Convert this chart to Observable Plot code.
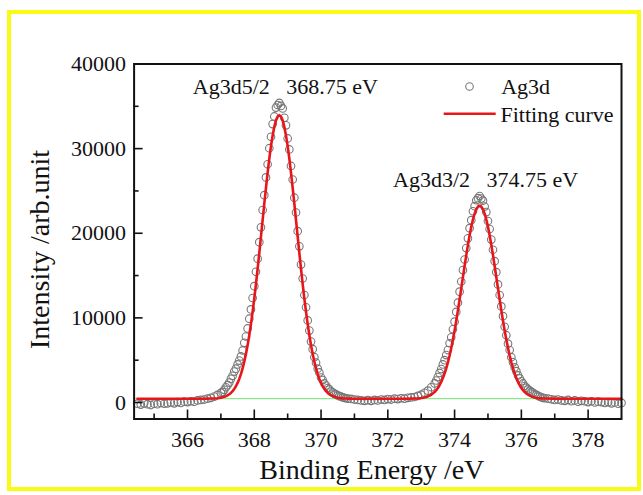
<!DOCTYPE html>
<html><head><meta charset="utf-8">
<script src="https://cdn.jsdelivr.net/npm/d3@7"></script>
<script src="https://cdn.jsdelivr.net/npm/@observablehq/plot@0.6"></script>
<style>
html,body{margin:0;padding:0;background:#fff;}
#wrap{position:relative;width:643px;height:495px;overflow:hidden;}
#chart svg{display:block;}
#border{position:absolute;left:7px;top:10px;width:634px;height:481px;border:4px solid #fafa14;box-sizing:border-box;pointer-events:none;}
</style></head>
<body><div id="wrap"><div id="chart"></div><div id="border"></div></div>
<script>
// Binding energy (eV)
const energy = [
364.5,364.6,364.7,364.8,364.9,365.0,365.1,365.2,365.3,365.4,365.5,365.6,365.7,365.8,365.9,366.0,366.1,366.2,366.3,366.4,366.5,366.6,366.7,366.8,366.9,
367.00,367.05,367.10,367.15,367.20,367.25,367.30,367.35,367.40,367.45,367.50,367.55,367.60,367.65,367.70,367.75,367.80,367.85,367.90,367.95,
368.00,368.05,368.10,368.15,368.20,368.25,368.30,368.35,368.40,368.45,368.50,368.55,368.60,368.65,368.70,368.75,368.80,368.85,368.90,368.95,
369.00,369.05,369.10,369.15,369.20,369.25,369.30,369.35,369.40,369.45,369.50,369.55,369.60,369.65,369.70,369.75,369.80,369.85,369.90,369.95,
370.00,370.05,370.10,370.15,370.20,370.25,370.30,370.35,370.40,370.45,370.50,370.55,370.60,370.65,370.70,370.75,370.80,
370.9,371.0,371.1,371.2,371.3,371.4,371.5,371.6,371.7,371.8,371.9,372.0,372.1,372.2,372.3,372.4,372.5,372.6,372.7,372.8,372.9,373.0,373.1,373.2,373.3,
373.40,373.45,373.50,373.55,373.60,373.65,373.70,373.75,373.80,373.85,373.90,373.95,
374.00,374.05,374.10,374.15,374.20,374.25,374.30,374.35,374.40,374.45,374.50,374.55,374.60,374.65,374.70,374.75,374.80,374.85,374.90,374.95,
375.00,375.05,375.10,375.15,375.20,375.25,375.30,375.35,375.40,375.45,375.50,375.55,375.60,375.65,375.70,375.75,375.80,375.85,375.90,375.95,
376.00,376.05,376.10,376.15,376.20,376.25,376.30,376.35,376.40,376.45,376.50,376.55,376.60,376.65,376.70,
376.8,376.9,377.0,377.1,377.2,377.3,377.4,377.5,377.6,377.7,377.8,377.9,378.0,378.1,378.2,378.3,378.4,378.5,378.6,378.7,378.8,378.9,379.0
];
// Measured Ag3d intensity (open circles)
const counts = [
-150,-250,-100,-200,-300,-150,-200,-50,-150,-100,0,-100,50,-50,100,50,150,100,250,300,350,450,550,700,900,
1150,1250,1500,1800,2050,2350,2800,3150,3650,4000,4500,4950,5450,6150,7050,7800,8750,9900,11000,12350,
13750,15450,17000,18950,20700,22750,24500,26600,28150,30050,31400,32900,33800,34850,35150,35400,35050,34750,33650,32750,
31200,29900,27950,26350,24200,22450,20250,18450,16300,14650,12700,11250,9700,8500,7200,6300,5350,4700,4000,3550,
2950,2650,2250,2000,1700,1550,1300,1200,1050,950,850,750,700,600,550,500,450,
420,350,300,250,200,280,200,300,250,350,300,400,350,450,400,500,450,550,600,650,780,920,1150,1400,1800,
2250,2600,3000,3500,3950,4500,5000,5600,6200,7000,7700,8650,
9550,10700,11800,13100,14300,15650,16900,18250,19400,20600,21550,22600,23200,23900,24150,24400,24100,23850,23150,22500,
21450,20500,19250,18050,16700,15400,13950,12700,11350,10200,8950,7950,6950,6200,5350,4750,4150,3700,3200,2850,
2500,2250,1950,1750,1550,1400,1250,1150,1000,900,800,700,620,550,500,
450,380,300,350,250,200,300,150,250,100,200,150,50,150,0,100,50,-50,50,-100,0,-150,-50
];
// Fitting curve
const fit = [
450,450,450,450,450,450,450,450,450,450,450,450,450,450,450,450,450,450,450,450,450,458,465,480,510,
567,611,668,745,845,973,1137,1344,1602,1921,2313,2788,3354,4024,4812,5723,6765,7941,9257,10708,
12289,13987,15786,17666,19599,21548,23488,25371,27160,28814,30295,31561,32583,33337,33795,33950,33795,33337,32583,31561,
30295,28814,27160,25371,23488,21548,19599,17666,15786,13987,12289,10708,9257,7941,6765,5723,4812,4024,3354,2788,
2313,1921,1602,1344,1137,973,845,745,668,611,567,534,510,490,480,470,462,
455,450,450,450,450,450,450,450,450,450,450,450,450,450,450,450,450,450,462,471,491,530,598,719,917,
1234,1451,1718,2041,2427,2883,3419,4039,4748,5548,6444,7431,
8508,9663,10888,12167,13482,14809,16130,17411,18628,19755,20763,21624,22320,22833,23145,23250,23145,22833,22320,21624,
20763,19755,18628,17411,16130,14809,13482,12167,10888,9663,8508,7431,6444,5548,4748,4039,3419,2883,2427,2041,
1718,1451,1234,1059,917,806,719,651,598,559,530,507,491,477,471,
464,458,454,450,450,450,450,450,450,450,450,450,450,450,450,450,450,450,450,450,450,450,450
];
const background = [450];
const peakNames = ["Ag3d5/2", "Ag3d3/2"];
const peakEnergies = [368.75, 374.75];
const xTicks = [366, 368, 370, 372, 374, 376, 378];
const xMinor = [365, 367, 369, 371, 373, 375, 377];
const yTicks = [0, 10000, 20000, 30000, 40000];
const yMinor = [5000, 15000, 25000, 35000];
const legendLabels = ["Ag3d", "Fitting curve"];
const xTitle = "Binding Energy /eV";
const yTitle = "Intensity /arb.unit";

const data = energy.map((e, i) => ({e, c: counts[i], f: fit[i]}));
const peaks = peakNames.map((name, i) => {
  const near = data.filter(d => Math.abs(d.e - peakEnergies[i]) < 0.3);
  return {name, e: peakEnergies[i], top: d3.max(near, d => d.c)};
});

const lineSymbol = {draw(ctx) { ctx.moveTo(-26, 0); ctx.lineTo(26, 0); }};
const font = "Liberation Serif, Times New Roman, serif";
const noText = () => "";

const chart = Plot.plot({
  width: 643, height: 495,
  marginLeft: 133.6, marginRight: 22, marginTop: 63.5, marginBottom: 76.5,
  x: {domain: [364.4, 379.0]},
  y: {domain: [-1950, 40000]},
  style: {fontFamily: font, fontSize: "22px", color: "#111", background: "white", overflow: "visible"},
  marks: [
    Plot.ruleY(background, {stroke: "#8de88d", strokeWidth: 1.2}),
    Plot.dot(data, {x: "e", y: "c", r: 3.8, stroke: "#777", strokeWidth: 1.1, fill: "none"}),
    Plot.line(data, {x: "e", y: "f", stroke: "#e8161b", strokeWidth: 2.6}),
    Plot.frame({stroke: "#111", strokeWidth: 2}),
    // inward ticks
    Plot.axisY(yTicks, {tickSize: 9, dx: 9, tickFormat: noText, label: null, strokeWidth: 1.6}),
    Plot.axisY(yMinor, {tickSize: 5, dx: 5, tickFormat: noText, label: null, strokeWidth: 1.6}),
    Plot.axisX(xTicks, {tickSize: 9, dy: -9, tickFormat: noText, label: null, strokeWidth: 1.6}),
    Plot.axisX(xMinor, {tickSize: 5, dy: -5, tickFormat: noText, label: null, strokeWidth: 1.6}),
    // tick labels
    Plot.axisY(yTicks, {tickSize: 0, tickPadding: 8, tickFormat: d => String(d), label: null, fontSize: 22}),
    Plot.axisX(xTicks, {tickSize: 0, tickPadding: 12, tickFormat: d => String(d), label: null, fontSize: 22}),
    // axis titles
    Plot.text([xTitle], {text: d => d, frameAnchor: "bottom", dx: -6, dy: 59.5, lineAnchor: "bottom", fontSize: 28}),
    Plot.text([yTitle], {text: d => d, frameAnchor: "left", rotate: -90, dx: -93.6, dy: 8, fontSize: 28, lineAnchor: "middle", textAnchor: "middle"}),
    // peak annotations
    Plot.text(peaks, {x: "e", y: "top", text: d => d.name + "\u00a0\u00a0\u00a0" + d.e.toFixed(2) + " eV", dx: 6, dy: -9, lineAnchor: "bottom", textAnchor: "middle", fontSize: 22}),
    // legend
    Plot.dot([legendLabels[0]], {x: null, y: null, frameAnchor: "top-right", dx: -152, dy: 22.5, r: 3.8, stroke: "#777", strokeWidth: 1.1, fill: "none"}),
    Plot.dot([legendLabels[1]], {x: null, y: null, frameAnchor: "top-right", dx: -151.8, dy: 49.8, symbol: lineSymbol, stroke: "#e8161b", strokeWidth: 2.6}),
    Plot.text([legendLabels[0]], {text: d => d, frameAnchor: "top-right", dx: -120.3, dy: 29.8, textAnchor: "start", lineAnchor: "bottom", fontSize: 22}),
    Plot.text([legendLabels[1]], {text: d => d, frameAnchor: "top-right", dx: -121, dy: 58.2, textAnchor: "start", lineAnchor: "bottom", fontSize: 22})
  ]
});
document.getElementById("chart").appendChild(chart);
</script>
</body></html>
